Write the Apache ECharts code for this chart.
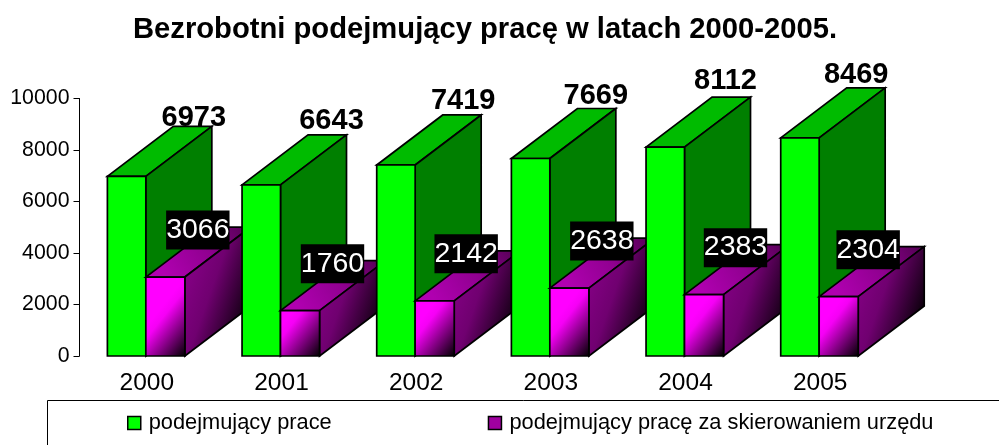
<!DOCTYPE html>
<html><head><meta charset="utf-8">
<style>html,body{margin:0;padding:0;background:#fff}#c{width:999px;height:445px}</style>
<script src="https://cdn.jsdelivr.net/npm/echarts@6/dist/echarts.min.js"></script>
</head><body><div id="c"></div>
<script>
const years = ['2000','2001','2002','2003','2004','2005'];
const employed = [6973,6643,7419,7669,8112,8469];
const referred = [3066,1760,2142,2638,2383,2304];
const employedName = 'podejmujący prace';
const referredName = 'podejmujący pracę za skierowaniem urzędu';
const titleText = 'Bezrobotni podejmujący pracę w latach 2000-2005.';

// label nudges, px relative to each bar's top
const employedLabelDX = [47,50,47,45,40,36];
const employedLabelDY = [-58,-64,-64,-63,-66,-63];
const referredLabelDX = [51,51,50,51,50,48];
const DEPTH_X = 66, DEPTH_Y = -50;
const stroke = '#000', lw = 1.7;

function lin(x,y,x2,y2,stops){return new echarts.graphic.LinearGradient(x,y,x2,y2,stops,true);}

function box(x0, x1, yTop, yBase, cols, z){
  const st = (fill)=>({fill:fill,stroke:stroke,lineWidth:lw,lineJoin:'miter'});
  return [
    {type:'polygon',z2:z,shape:{points:[[x0,yTop],[x1,yTop],[x1+DEPTH_X,yTop+DEPTH_Y],[x0+DEPTH_X,yTop+DEPTH_Y]]},style:st(cols.top)},
    {type:'polygon',z2:z+1,shape:{points:[[x1,yTop],[x1+DEPTH_X,yTop+DEPTH_Y],[x1+DEPTH_X,yBase+DEPTH_Y],[x1,yBase]]},style:st(cols.side)},
    {type:'rect',z2:z+2,shape:{x:x0,y:yTop,width:x1-x0,height:yBase-yTop},style:st(cols.front)}
  ];
}
function renderEmployed(params, api){
  const i = api.value(0), top = api.coord([i, api.value(1)]), base = api.coord([i,0]);
  const band = api.size([1,0])[0], w = band*0.2855;
  const xr = top[0]-1, xl = xr-w;
  const kids = box(xl,xr,top[1],base[1],{top:'#00bb00',side:'#007f00',front:'#00ff00'},10+i*10);
  kids.push({type:'text',z2:1000,style:{text:String(api.value(1)),x:top[0]+employedLabelDX[i],y:top[1]+employedLabelDY[i],
    font:'bold 29px "Liberation Sans"',fill:'#000',align:'center',verticalAlign:'middle'}});
  return {type:'group',children:kids};
}
function renderReferred(params, api){
  const i = api.value(0), top = api.coord([i, api.value(1)]), base = api.coord([i,0]);
  const band = api.size([1,0])[0], w = band*0.29;
  const xl = top[0]-1, xr = xl+w;
  const yT = top[1], yB = base[1];
  const ex = xr+DEPTH_X, ey = yB+DEPTH_Y;
  const cols = {
    front: lin(xr-38,yB-30,xr,yB,[{offset:0,color:'#ff00ff'},{offset:.15,color:'#f500f5'},{offset:1,color:'#000'}]),
    side: lin(ex-62,ey-22,ex,ey,[{offset:0,color:'#800080'},{offset:.35,color:'#700070'},{offset:1,color:'#0c000c'}]),
    top: lin(xl+20,yT,xr+DEPTH_X,yT+DEPTH_Y,[{offset:0,color:'#b000b0'},{offset:.5,color:'#900090'},{offset:1,color:'#500050'}])
  };
  const kids = box(xl,xr,yT,yB,cols,14+i*10);
  kids.push({type:'text',z2:1001,style:{text:String(api.value(1)),x:top[0]+referredLabelDX[i],y:top[1]-47,
    font:'28.5px "Liberation Sans"',fill:'#fff',align:'center',verticalAlign:'middle',
    backgroundColor:'#000',padding:[5,0,5,0]}});
  return {type:'group',children:kids};
}
const chart = echarts.init(document.getElementById('c'),null,{renderer:'canvas'});
chart.setOption({
  animation:false,
  backgroundColor:'#fff',
  title:{text:titleText,left:128,top:10,textStyle:{fontFamily:'Liberation Sans',fontWeight:'bold',fontSize:29.2,color:'#000'}},
  grid:{left:79.5,top:98.5,width:808,height:257.5},
  legend:{left:122,top:407,itemWidth:13,itemHeight:13,itemGap:156,selectedMode:false,icon:'rect',
    textStyle:{fontFamily:'Liberation Sans',fontSize:21.8,color:'#000',padding:[0,0,0,3]},
    data:[{name:employedName,itemStyle:{color:'#00ff00',borderColor:'#000',borderWidth:1.5}},
          {name:referredName,itemStyle:{color:'#a000a0',borderColor:'#000',borderWidth:1.5}}]},
  xAxis:{type:'category',data:years,axisLine:{show:false},axisTick:{show:false},
    axisLabel:{color:'#000',fontFamily:'Liberation Sans',fontSize:24.5,margin:15}},
  yAxis:{type:'value',min:0,max:10000,interval:2000,splitLine:{show:false},
    axisLine:{show:true,lineStyle:{color:'#000',width:1}},
    axisTick:{show:true,length:6,lineStyle:{color:'#000',width:1}},
    axisLabel:{color:'#000',fontFamily:'Liberation Sans',fontSize:21.3,margin:10,formatter:v=>String(v)}},
  graphic:[{type:'polyline',silent:true,shape:{points:[[47.5,445],[47.5,400.5],[999,400.5]]},style:{fill:null,stroke:'#000',lineWidth:1}}],
  series:[
    {type:'custom',name:employedName,data:employed.map((v,i)=>[i,v]),encode:{x:0,y:1},renderItem:renderEmployed,clip:false,itemStyle:{color:'#00ff00'}},
    {type:'custom',name:referredName,data:referred.map((v,i)=>[i,v]),encode:{x:0,y:1},renderItem:renderReferred,clip:false,itemStyle:{color:'#a000a0'}}
  ]
});
</script></body></html>
